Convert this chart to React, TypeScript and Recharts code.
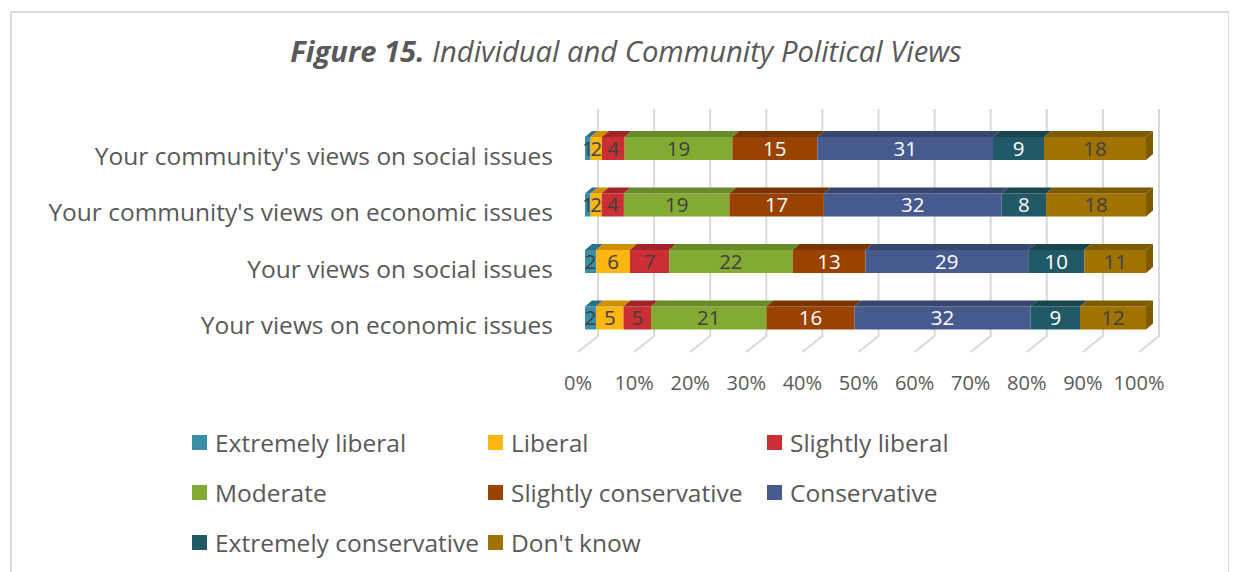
import React from 'react';
import { BarChart, Bar, XAxis, YAxis, CartesianGrid, LabelList, Legend } from 'recharts';

const categories = [
  "Your community's views on social issues",
  "Your community's views on economic issues",
  'Your views on social issues',
  'Your views on economic issues',
];

const extremelyLiberal = [1, 1, 2, 2];
const liberal = [2, 2, 6, 5];
const slightlyLiberal = [4, 4, 7, 5];
const moderate = [19, 19, 22, 21];
const slightlyConservative = [15, 17, 13, 16];
const conservative = [31, 32, 29, 32];
const extremelyConservative = [9, 8, 10, 9];
const dontKnow = [18, 18, 11, 12];

const xTicks = [0, 0.1, 0.2, 0.3, 0.4, 0.5, 0.6, 0.7, 0.8, 0.9, 1];

const FONT = "'Open Sans', Lato, sans-serif";
const DX = 7;
const DY = 6;

// key, name, front colour, top colour, label colour
const seriesInfo = [
  { key: 'el', name: 'Extremely liberal', values: extremelyLiberal, fill: '#3A8EA5', top: '#2C7187', text: '#404040' },
  { key: 'l', name: 'Liberal', values: liberal, fill: '#FFB611', top: '#CF9000', text: '#404040' },
  { key: 'sl', name: 'Slightly liberal', values: slightlyLiberal, fill: '#CC2F33', top: '#A22428', text: '#404040' },
  { key: 'm', name: 'Moderate', values: moderate, fill: '#83AA33', top: '#688A28', text: '#404040' },
  { key: 'sc', name: 'Slightly conservative', values: slightlyConservative, fill: '#9A4300', top: '#793400', text: '#FFFFFF' },
  { key: 'c', name: 'Conservative', values: conservative, fill: '#475A8E', top: '#36466F', text: '#FFFFFF' },
  { key: 'ec', name: 'Extremely conservative', values: extremelyConservative, fill: '#225966', top: '#19454F', text: '#FFFFFF' },
  { key: 'dk', name: "Don't know", values: dontKnow, fill: '#A07200', top: '#7E5A00', text: '#404040' },
];

const data = categories.map((cat, i) => {
  const row: Record<string, string | number> = { name: cat };
  seriesInfo.forEach((s) => {
    row[s.key] = s.values[i];
  });
  return row;
});

const makeShape = (fill: string, top: string, last: boolean) => (props: any) => {
  const { x, y, width, height } = props;
  if (!width || width <= 0) return <g />;
  return (
    <g>
      <rect x={x} y={y} width={width} height={height} fill={fill} />
      <polygon
        points={`${x},${y} ${x + DX},${y - DY} ${x + width + DX},${y - DY} ${x + width},${y}`}
        fill={top}
      />
      {last && (
        <polygon
          points={`${x + width},${y} ${x + width + DX},${y - DY} ${x + width + DX},${y + height - DY} ${x + width},${y + height}`}
          fill={top}
        />
      )}
    </g>
  );
};

const gridLine = (p: any) => {
  const { x1, y1, y2 } = p;
  return (
    <path
      key={p.key}
      d={`M${x1 + 13},${y1 - 11} L${x1 + 13},${y2 - 10} L${x1 - 7},${y2 + 6}`}
      stroke="#D9D9D9"
      strokeWidth={2}
      fill="none"
    />
  );
};

const YTick = (p: any) => (
  <text x={p.x} y={p.y + 7} textAnchor="end" dominantBaseline="central" fontSize={24.5} fill="#595959" fontFamily={FONT}>
    {p.payload.value}
  </text>
);

const XTick = (p: any) => (
  <text x={p.x - 7} y={p.y + 36} textAnchor="middle" dominantBaseline="central" fontSize={20} fill="#595959" fontFamily={FONT}>
    {`${Math.round(p.payload.value * 100)}%`}
  </text>
);

const colWidths = [296, 279, 300];

const LegendContent = () => (
  <div style={{ display: 'grid', gridTemplateColumns: colWidths.map((w) => `${w}px`).join(' '), rowGap: 0 }}>
    {seriesInfo.map((s) => (
      <div key={s.key} style={{ display: 'flex', alignItems: 'center', height: 50, whiteSpace: 'nowrap' }}>
        <span style={{ display: 'inline-block', width: 15, height: 15, background: s.fill, marginRight: 8 }} />
        <span style={{ fontSize: 24.5, color: '#595959', fontFamily: FONT }}>{s.name}</span>
      </div>
    ))}
  </div>
);

export default function App() {
  return (
    <div style={{ position: 'relative', width: 1229, height: 564 }}>
      <div
        style={{
          position: 'absolute',
          left: 2,
          top: 3,
          width: 1220,
          height: 600,
          border: '2px solid #D9D9D9',
          boxSizing: 'border-box',
        }}
      />
      <div
        style={{
          position: 'absolute',
          left: 0,
          top: 23,
          width: 1236,
          textAlign: 'center',
          fontFamily: FONT,
          fontStyle: 'italic',
          fontSize: 29.2,
          color: '#595959',
        }}
      >
        <b>Figure 15.</b> Individual and Community Political Views
      </div>
      <div style={{ position: 'absolute', left: 0, top: 0 }}>
        <BarChart
          width={1229}
          height={564}
          data={data}
          layout="vertical"
          stackOffset="expand"
          barSize={23}
          margin={{ top: 112, right: 91, bottom: 196, left: 0 }}
        >
          <CartesianGrid horizontal={false} vertical={gridLine} />
          <XAxis
            type="number"
            domain={[0, 1]}
            ticks={xTicks}
            tick={XTick}
            tickLine={false}
            axisLine={false}
            tickSize={0}
            tickMargin={0}
            height={30}
            interval={0}
          />
          <YAxis
            type="category"
            dataKey="name"
            width={577}
            tick={YTick}
            tickLine={false}
            axisLine={false}
            tickSize={0}
            tickMargin={32}
            interval={0}
          />
          <Legend
            layout="horizontal"
            verticalAlign="middle"
            align="center"
            content={LegendContent}
            wrapperStyle={{ top: 409, left: 184, width: 900, height: 150 }}
          />
          {seriesInfo.map((s, i) => (
            <Bar
              key={s.key}
              dataKey={s.key}
              name={s.name}
              stackId="a"
              fill={s.fill}
              isAnimationActive={false}
              shape={makeShape(s.fill, s.top, i === seriesInfo.length - 1)}
            >
              <LabelList dataKey={s.key} position="center" fill={s.text} fontSize={20.5} fontFamily={FONT} />
            </Bar>
          ))}
        </BarChart>
      </div>
    </div>
  );
}
